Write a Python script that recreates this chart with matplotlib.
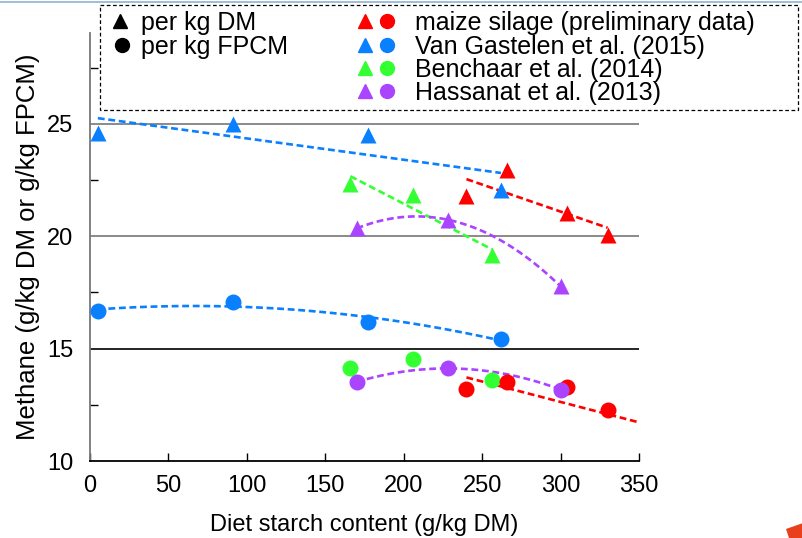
import numpy as np
import matplotlib
matplotlib.use("Agg")
import matplotlib.pyplot as plt
from matplotlib.patches import Rectangle, Polygon

plt.rcParams['font.family'] = ['Liberation Sans', 'DejaVu Sans']

# ---------------- data ----------------
series_names = ["maize silage (preliminary data)", "Van Gastelen et al. (2015)",
                "Benchaar et al. (2014)", "Hassanat et al. (2013)"]
series_colors = ["#FF0000", "#0A80FF", "#33FF33", "#AA44FF"]

maize_x = [240, 266, 304, 330]
maize_dm = [21.8, 22.95, 21.05, 20.05]
maize_fpcm = [13.22, 13.53, 13.28, 12.25]

vg_x = [5, 91, 177, 262]
vg_dm = [24.6, 25.0, 24.5, 22.05]
vg_fpcm = [16.68, 17.08, 16.2, 15.43]

ben_x = [166, 206, 256]
ben_dm = [22.35, 21.82, 19.17]
ben_fpcm = [14.12, 14.52, 13.6]

has_x = [170, 228, 300]
has_dm = [20.35, 20.74, 17.77]
has_fpcm = [13.52, 14.12, 13.18]

# trend line for maize FPCM
maize_fpcm_trend_x = [240, 350]
maize_fpcm_trend_y = [13.72, 11.72]

x_ticks = [0, 50, 100, 150, 200, 250, 300, 350]
y_ticks = [10, 15, 20, 25]
y_minor = [12.5, 17.5, 22.5, 27.5]

# ---------------- figure ----------------
fig = plt.figure(figsize=(8.03, 5.38), dpi=100)
ax = fig.add_axes([90/803, 1-461/538, (639-90)/803, (461-33)/538])
ax.set_xlim(0, 350)
ax.set_ylim(10, 29.05)

# grid lines
for yv, c in zip([15, 20, 25], ["#000000", "#777777", "#777777"]):
    ax.axhline(yv, color=c, lw=1.2, zorder=1)

dash = (0, (2.6, 1.4))
lw_t = 1.9
ms = 11.5

def trend(x, y, deg, color, xr=None):
    p = np.polyfit(x, y, deg)
    lo, hi = (min(x), max(x)) if xr is None else xr
    xs = np.linspace(lo, hi, 100)
    ax.plot(xs, np.polyval(p, xs), color=color, lw=lw_t, ls=dash, zorder=2)

c_m, c_v, c_b, c_h = series_colors
trend(vg_x, vg_dm, 1, c_v)
trend(maize_x, maize_dm, 1, c_m)
trend(ben_x, ben_dm, 1, c_b)
trend(has_x, has_dm, 2, c_h)
trend(vg_x, vg_fpcm, 2, c_v)
trend(has_x, has_fpcm, 2, c_h)
ax.plot(maize_fpcm_trend_x, maize_fpcm_trend_y, color=c_m, lw=lw_t, ls=dash, zorder=2)

for xs, dm, fp, c in [(vg_x, vg_dm, vg_fpcm, c_v), (ben_x, ben_dm, ben_fpcm, c_b),
                      (maize_x, maize_dm, maize_fpcm, c_m), (has_x, has_dm, has_fpcm, c_h)]:
    ax.plot(xs, dm, ls='none', marker='^', ms=ms, color=c, mec='none', zorder=3)
    ax.plot(xs, fp, ls='none', marker='o', ms=ms, color=c, mec='none', zorder=3)

# axes styling
for s in ['top', 'right']:
    ax.spines[s].set_visible(False)
ax.spines['left'].set_color('#777777')
ax.spines['left'].set_linewidth(1.3)
ax.spines['bottom'].set_color('#000000')
ax.spines['bottom'].set_linewidth(1.3)

ax.set_xticks(x_ticks)
ax.set_xticklabels([str(v) for v in x_ticks])
ax.set_yticks(y_ticks)
ax.set_yticklabels([str(v) for v in y_ticks])
ax.set_yticks(y_minor, minor=True)
ax.tick_params(axis='x', direction='in', length=6, width=1, pad=10, labelsize=17)
ax.tick_params(axis='y', which='major', length=0, pad=12, labelsize=17)
ax.tick_params(axis='y', which='minor', direction='in', length=6, width=1, color='#000000')

ax.set_xlabel("Diet starch content (g/kg DM)", fontsize=17, labelpad=12)
ax.set_ylabel("Methane (g/kg DM or g/kg FPCM)", fontsize=18.5, labelpad=5)

# ---------------- legend overlay (pixel coordinates) ----------------
ov = fig.add_axes([0, 0, 1, 1], zorder=10)
ov.set_xlim(0, 803)
ov.set_ylim(538, 0)
ov.axis('off')
ov.patch.set_alpha(0)

ov.add_patch(Rectangle((100, 5), 698, 105, facecolor='white', edgecolor='black',
                       lw=0.9, ls=(0, (3, 2))))
ov.plot([0, 803], [1.5, 1.5], color='#8FB3D6', lw=1.2)

fs_leg = 18
rows = [30, 54, 77, 100]
ov.plot([120], [rows[0] - 9], marker='^', ms=10, color='black', ls='none')
ov.text(141, rows[0], "per kg DM", fontsize=fs_leg, va='baseline', ha='left')
ov.plot([122], [rows[1] - 9], marker='o', ms=10, color='black', ls='none')
ov.text(141, rows[1], "per kg FPCM", fontsize=fs_leg, va='baseline', ha='left')
for r, name, c in zip(rows, series_names, series_colors):
    ov.plot([365], [r - 9], marker='^', ms=10, color=c, ls='none')
    ov.plot([387], [r - 9], marker='o', ms=10, color=c, ls='none')
    ov.text(415, r, name, fontsize=fs_leg, va='baseline', ha='left')

# small slide decoration bottom-right
ov.add_patch(Polygon([[786, 529], [803, 523], [803, 538], [789, 538]],
                     closed=True, facecolor='#E8401C', edgecolor='none'))

fig.savefig("out.png", dpi=100)
